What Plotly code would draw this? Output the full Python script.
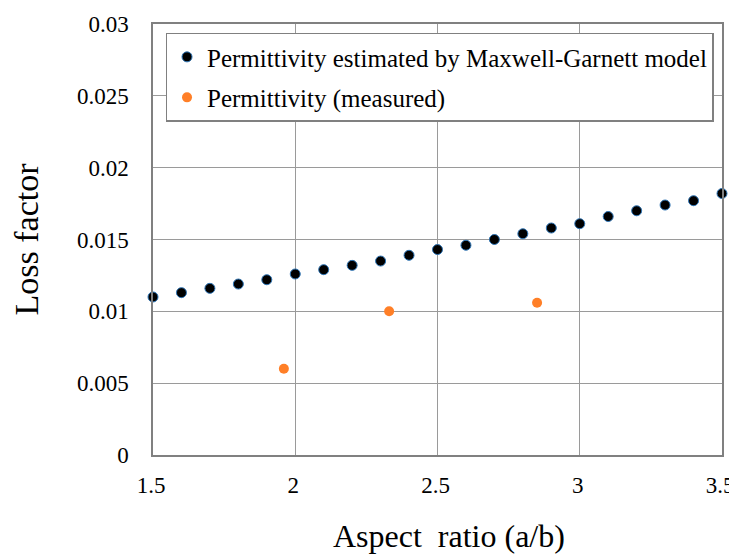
import plotly.graph_objects as go

aspect_model = [1.5, 1.6, 1.7, 1.8, 1.9, 2.0, 2.1, 2.2, 2.3, 2.4, 2.5,
                2.6, 2.7, 2.8, 2.9, 3.0, 3.1, 3.2, 3.3, 3.4, 3.5]
loss_model = [0.0110, 0.0113, 0.0116, 0.0119, 0.0122, 0.0126, 0.0129,
              0.0132, 0.0135, 0.0139, 0.0143, 0.0146, 0.0150, 0.0154,
              0.0158, 0.0161, 0.0166, 0.0170, 0.0174, 0.0177, 0.0182]
aspect_meas = [1.96, 2.33, 2.85]
loss_meas = [0.0060, 0.0100, 0.0106]

x_ticks = [1.5, 2, 2.5, 3, 3.5]
x_ticklabels = ["1.5", "2", "2.5", "3", "3.5"]
y_ticks = [0, 0.005, 0.01, 0.015, 0.02, 0.025, 0.03]
y_ticklabels = ["0", "0.005", "0.01", "0.015", "0.02", "0.025", "0.03"]

x_title = "Aspect  ratio (a/b)"
y_title = "Loss factor"

FONT = "'Liberation Serif', 'Times New Roman', serif"

fig = go.Figure()
fig.add_trace(go.Scatter(
    x=aspect_model, y=loss_model, mode="markers",
    name="Permittivity estimated by Maxwell-Garnett model",
    legendgroup="a",
    marker=dict(color="black", size=10, line=dict(color="#2E75B6", width=1)),
    cliponaxis=False,
))
fig.add_trace(go.Scatter(
    x=aspect_meas, y=loss_meas, mode="markers",
    name="Permittivity (measured)",
    legendgroup="b",
    marker=dict(color="#FF7F27", size=10, line=dict(width=0)),
    cliponaxis=False,
))

# the page body has an 8px margin, so the figure is 8px smaller than the window
fig.update_layout(
    width=729, height=547,
    margin=dict(l=145, r=15, t=16, b=100),
    plot_bgcolor="white", paper_bgcolor="white",
    font=dict(family=FONT, color="black", size=23),
    showlegend=True,
    legend=dict(
        x=0.022, y=0.98, xanchor="left", yanchor="top",
        bgcolor="white", bordercolor="#808080", borderwidth=1.5,
        font=dict(family=FONT, size=25, color="black"),
        traceorder="grouped", tracegroupgap=5,
        itemwidth=30,
    ),
    xaxis=dict(
        range=[1.5, 3.5], tickvals=x_ticks, ticktext=x_ticklabels,
        showgrid=True, gridcolor="#9a9a9a", gridwidth=1,
        showline=True, linecolor="#808080", linewidth=1.5, mirror=True,
        zeroline=False, ticks="", ticklen=0, automargin=False,
        ticklabelstandoff=9, ticklabelshift=-2,
        tickfont=dict(family=FONT, size=23),
    ),
    yaxis=dict(
        range=[0, 0.03], tickvals=y_ticks, ticktext=y_ticklabels,
        showgrid=True, gridcolor="#9a9a9a", gridwidth=1,
        showline=True, linecolor="#808080", linewidth=1.5, mirror=True,
        zeroline=False, ticks="", ticklen=0, automargin=False,
        ticklabelstandoff=18,
        tickfont=dict(family=FONT, size=23),
        title=dict(text=y_title, font=dict(family=FONT, size=34), standoff=37),
    ),
    annotations=[dict(
        text=x_title, xref="paper", yref="paper", x=0.52, y=-0.188,
        xanchor="center", yanchor="middle", showarrow=False,
        font=dict(family=FONT, size=32, color="black"),
    )],
)

fig.write_html("out.html")
